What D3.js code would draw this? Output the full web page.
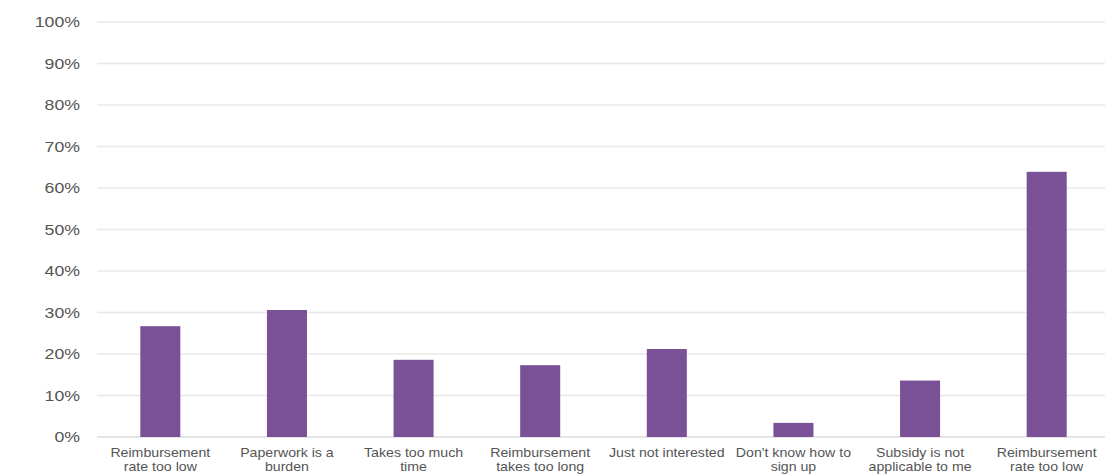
<!DOCTYPE html>
<html>
<head>
<meta charset="utf-8">
<script src="https://cdn.jsdelivr.net/npm/d3@7"></script>
<style>
  html, body { margin: 0; padding: 0; background: #fff; }
  svg { display: block; }
  text { font-family: "Liberation Sans", Arial, Helvetica, sans-serif; }
</style>
</head>
<body>
<svg id="chart" width="1111" height="475"></svg>
<script>
const categories = [
  ["Reimbursement", "rate too low"],
  ["Paperwork is a", "burden"],
  ["Takes too much", "time"],
  ["Reimbursement", "takes too long"],
  ["Just not interested"],
  ["Don't know how to", "sign up"],
  ["Subsidy is not", "applicable to me"],
  ["Reimbursement", "rate too low"]
];
const values = [26.7, 30.6, 18.6, 17.3, 21.2, 3.4, 13.6, 63.9];
const yTicks = [0, 10, 20, 30, 40, 50, 60, 70, 80, 90, 100];

(function () {
  const svg = d3.select("#chart");
  const mLeft = 97, mRight = 1110, mTop = 22, mBottom = 437;
  const stretch = 1.18;

  const x = d3.scaleBand()
    .domain(d3.range(categories.length))
    .range([mLeft, mRight])
    .paddingInner(0.684)
    .paddingOuter(0.342);

  const y = d3.scaleLinear().domain([0, 100]).range([mBottom, mTop]);

  // gridlines
  svg.append("g").selectAll("line")
    .data(yTicks)
    .join("line")
    .attr("x1", mLeft).attr("x2", 1105)
    .attr("y1", d => y(d)).attr("y2", d => y(d))
    .attr("stroke", d => d === 0 ? "#dcdcdc" : "#e8e8e8")
    .attr("stroke-width", 1.5);

  // y labels
  svg.append("g").selectAll("text")
    .data(yTicks)
    .join("text")
    .attr("transform", d => `translate(80,${y(d) + 5}) scale(${stretch},1)`)
    .attr("text-anchor", "end")
    .attr("font-size", 15)
    .attr("fill", "#555")
    .text(d => d + "%");

  // bars
  svg.append("g").selectAll("rect")
    .data(values)
    .join("rect")
    .attr("x", (d, i) => x(i))
    .attr("width", x.bandwidth())
    .attr("y", d => y(d))
    .attr("height", d => y(0) - y(d))
    .attr("fill", "#7a5096");

  // x labels
  const xl = svg.append("g").selectAll("text")
    .data(categories)
    .join("text")
    .attr("transform", (d, i) => `translate(${x(i) + x.bandwidth() / 2},457) scale(${stretch},1)`)
    .attr("text-anchor", "middle")
    .attr("font-size", 12)
    .attr("fill", "#555");
  xl.each(function (d) {
    d3.select(this).selectAll("tspan")
      .data(d)
      .join("tspan")
      .attr("x", 0)
      .attr("dy", (t, j) => j === 0 ? 0 : 14)
      .text(t => t);
  });
})();
</script>
</body>
</html>
